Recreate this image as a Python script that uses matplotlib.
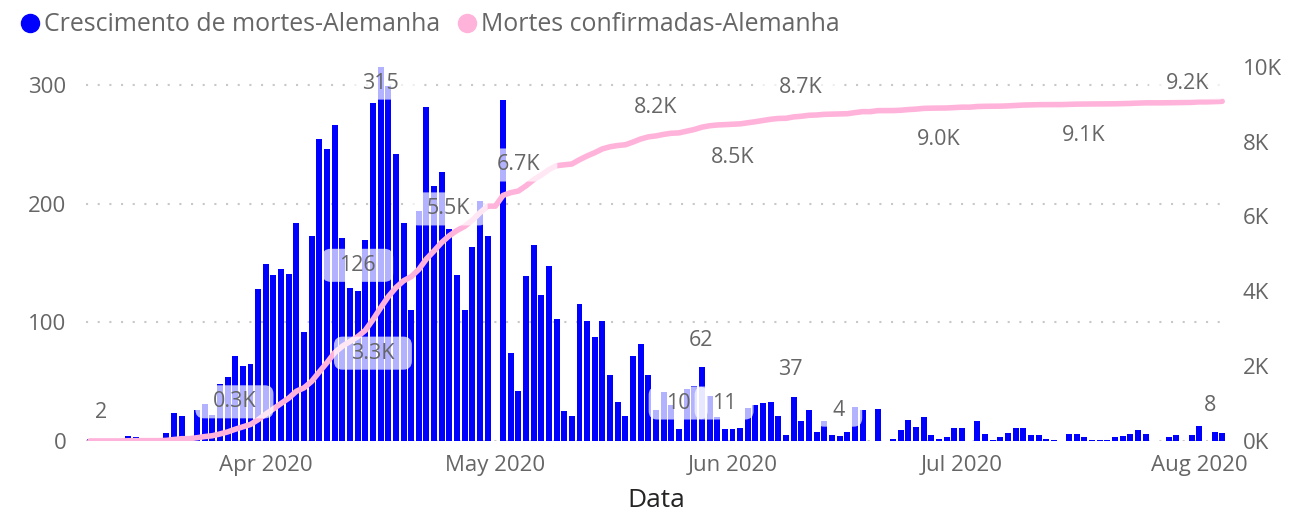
import numpy as np
import pandas as pd
import matplotlib
matplotlib.use("Agg")
import matplotlib.pyplot as plt
import matplotlib.dates as mdates
from matplotlib.lines import Line2D
from matplotlib.patches import BoxStyle
from matplotlib.ticker import FuncFormatter

plt.rcParams['font.family'] = ['Open Sans', 'DejaVu Sans']

# ---------------- data ----------------
start_date = "2020-03-09"
deaths_mar = [2, 0, 0, 0, 0, 4, 3, 0, 0, 0, 7, 24, 21, 0, 26, 31, 22, 48, 54, 72,
              63, 65, 128]
deaths_apr = [149, 140, 145, 141, 184, 92, 173, 254, 246, 266,
              171, 129, 126, 169, 285, 315, 299, 242, 184, 110,
              194, 281, 215, 227, 179, 140, 110, 163, 202, 173]
deaths_may = [0, 287, 74, 42, 139, 165, 123, 147, 103, 25,
              21, 115, 101, 88, 101, 56, 33, 21, 72, 82,
              56, 26, 41, 30, 10, 44, 46, 62, 38, 20, 10]
deaths_jun = [10, 11, 28, 30, 32, 33, 21, 5, 37, 17,
              26, 8, 17, 5, 4, 8, 29, 26, 0, 27,
              0, 2, 9, 18, 12, 20, 5, 2, 3, 11]
deaths_jul = [11, 0, 17, 6, 1, 3, 7, 11, 11, 5, 5, 2, 1, 0, 6, 6, 3, 1, 1, 1,
              3, 4, 6, 9, 6, 0, 0, 3, 5, 0, 5]
deaths_aug = [13, 0, 8, 7]

series_bar = "Crescimento de mortes-Alemanha"
series_line = "Mortes confirmadas-Alemanha"

month_ticks = ["2020-04-01", "2020-05-01", "2020-06-01", "2020-07-01", "2020-08-01"]
left_ticks = [0, 100, 200, 300]
right_ticks = [0, 2000, 4000, 6000, 8000, 10000]

# data labels shown on the chart
label_texts = ["2", "0.3K", "126", "3.3K", "315", "5.5K", "6.7K", "8.2K", "8.5K",
               "8.7K", "62", "10", "11", "37", "4", "9.0K", "9.1K", "9.2K", "8"]

daily = np.array(deaths_mar + deaths_apr + deaths_may + deaths_jun + deaths_jul + deaths_aug)
dates = pd.date_range(start_date, periods=len(daily), freq="D")
cumulative = np.cumsum(daily)

# ---------------- layout ----------------
# label positions: (day offset from start, height in left-axis units)
label_pos = [(1.5, 24), (18.9, 33), (35.0, 148), (37.0, 74), (38.0, 301.5),
             (46.9, 195.5), (56.0, 232.5), (73.9, 281), (84.0, 239), (92.9, 298),
             (79.9, 85), (76.9, 32), (82.9, 32), (91.6, 60), (97.9, 26),
             (110.9, 253.6), (129.9, 257), (143.5, 301.5), (146.4, 30)]

W, H = 1289, 515
fig = plt.figure(figsize=(W / 100, H / 100), dpi=100)
ax_l, ax_r, ax_t, ax_b = 86, 1226, 66.7, 441
ax = fig.add_axes([ax_l / W, (H - ax_b) / H, (ax_r - ax_l) / W, (ax_b - ax_t) / H])

x = mdates.date2num(dates)
BLUE = "#0000FF"
PINK = "#FFB3DA"
GRAY = "#666666"

ax.bar(x, daily, width=0.78, color=BLUE, zorder=2, linewidth=0)
ax.set_xlim(x[0] - 0.5, x[-1] + 0.5)
ax.set_ylim(0, 315.3)
ax.set_yticks(left_ticks)
ax.set_axisbelow(True)
ax.yaxis.grid(True, color="#C8C8C8", linestyle=(0, (1, 4.6)), linewidth=1.5)
ax.xaxis.grid(False)

ax.set_xticks(mdates.date2num(pd.to_datetime(month_ticks)))
ax.xaxis.set_major_formatter(mdates.DateFormatter("%b %Y"))
ax.tick_params(axis="x", length=0, pad=10, labelsize=16, labelcolor=GRAY)
ax.tick_params(axis="y", length=0, pad=14, labelsize=16, labelcolor=GRAY)
for s in ax.spines.values():
    s.set_visible(False)

ax2 = ax.twinx()
ax2.plot(x, cumulative, color=PINK, linewidth=4.0, solid_capstyle="round",
         solid_joinstyle="round", zorder=3)
ax2.set_ylim(0, 10000)
ax2.set_yticks(right_ticks)
ax2.yaxis.set_major_formatter(FuncFormatter(lambda v, p: f"{int(round(v / 1000))}K"))
ax2.tick_params(axis="y", length=0, pad=12, labelsize=16, labelcolor=GRAY)
for s in ax2.spines.values():
    s.set_visible(False)


def label_box(x0, y0, width, height, mutation_size):
    px = 0.8 * mutation_size
    py = 0.28 * mutation_size
    return BoxStyle.Round(pad=0, rounding_size=0.4)(x0 - px, y0 - py, width + 2 * px,
                                                     height + 2 * py, mutation_size)


for txt, (off, yv) in zip(label_texts, label_pos):
    ax2.text(x[0] + off, yv, txt, transform=ax.transData, ha="center", va="center",
             fontsize=15.5, color=GRAY, zorder=5,
             bbox=dict(boxstyle=label_box, facecolor="white", edgecolor="none", alpha=0.7))

ax.set_xlabel("Data", fontsize=19, color="#252423", labelpad=9)

handles = [Line2D([], [], marker="o", linestyle="", color=BLUE, markersize=13),
           Line2D([], [], marker="o", linestyle="", color=PINK, markersize=13)]
fig.legend(handles, [series_bar, series_line], loc="upper left",
           bbox_to_anchor=(0.004, 1.0), ncol=2, frameon=False, fontsize=17.9,
           handletextpad=0.05, columnspacing=0.6, handlelength=1.0, borderaxespad=0.1,
           labelcolor=GRAY)

fig.savefig("out.png", dpi=100)
